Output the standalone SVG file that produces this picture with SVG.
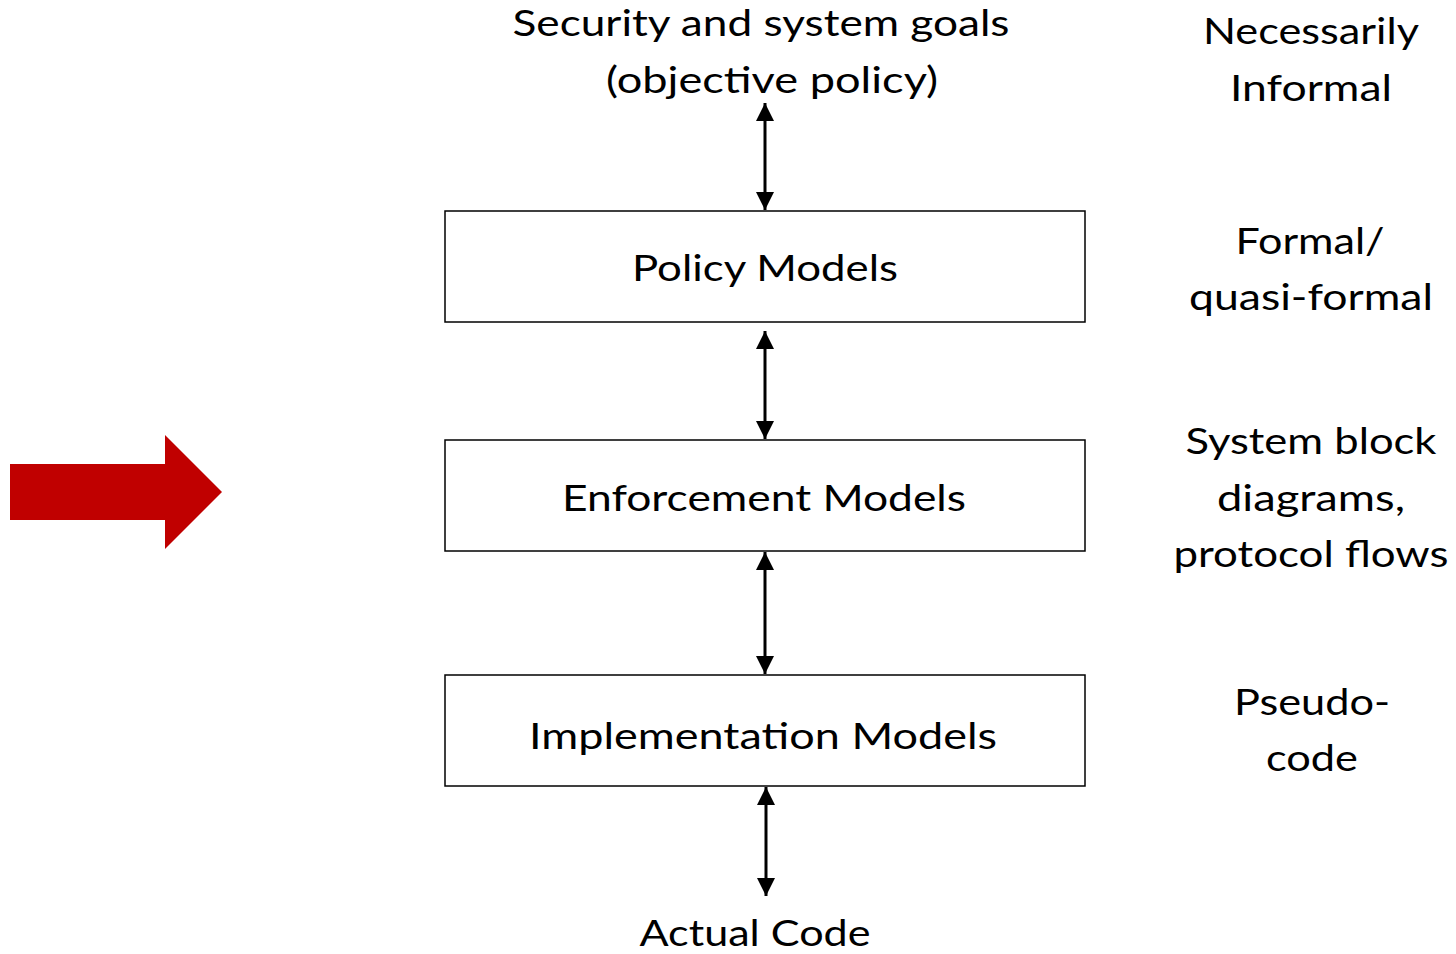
<svg xmlns="http://www.w3.org/2000/svg" width="1456" height="954" viewBox="0 0 1456 954">
<style>
text{font-family:Lato,"Open Sans","Liberation Sans",sans-serif;font-size:36px;fill:#000;text-anchor:middle}
.box{fill:#fff;stroke:#000;stroke-width:1.5}
.conn{stroke:#000;stroke-width:3;fill:none;marker-start:url(#ah);marker-end:url(#ah)}
</style>
<defs>
<marker id="ah" viewBox="0 0 10 10" refX="10" refY="5" markerWidth="6.5" markerHeight="6" orient="auto-start-reverse" markerUnits="strokeWidth">
<path d="M0,0 L10,5 L0,10 z" fill="#000"/>
</marker>
</defs>
<rect width="1456" height="954" fill="#fff"/>
<g id="red-arrow"><polygon points="10,464 165,464 165,435 222,492 165,549 165,520 10,520" fill="#c00000"/></g>
<g id="goals"><text x="761" y="36" textLength="497" lengthAdjust="spacingAndGlyphs">Security and system goals</text><text x="772" y="93" textLength="332" lengthAdjust="spacingAndGlyphs">(objective policy)</text></g>
<g id="policy"><rect class="box" x="445" y="211" width="640" height="111"/><text x="765" y="281" textLength="266" lengthAdjust="spacingAndGlyphs">Policy Models</text></g>
<g id="enforcement"><rect class="box" x="445" y="440" width="640" height="111"/><text x="764" y="511" textLength="404" lengthAdjust="spacingAndGlyphs">Enforcement Models</text></g>
<g id="implementation"><rect class="box" x="445" y="675" width="640" height="111"/><text x="763" y="749" textLength="468" lengthAdjust="spacingAndGlyphs">Implementation Models</text></g>
<g id="code"><text x="755" y="946" textLength="231" lengthAdjust="spacingAndGlyphs">Actual Code</text></g>
<g id="connectors">
<line class="conn" x1="765" y1="103" x2="765" y2="210"/>
<line class="conn" x1="765" y1="331" x2="765" y2="439"/>
<line class="conn" x1="765" y1="552" x2="765" y2="674"/>
<line class="conn" x1="766" y1="787" x2="766" y2="896"/>
</g>
<g id="levels">
<text x="1311" y="44" textLength="216" lengthAdjust="spacingAndGlyphs">Necessarily</text>
<text x="1311" y="101" textLength="162" lengthAdjust="spacingAndGlyphs">Informal</text>
<text x="1310" y="254" textLength="149" lengthAdjust="spacingAndGlyphs">Formal/</text>
<text x="1311" y="310" textLength="244" lengthAdjust="spacingAndGlyphs">quasi-formal</text>
<text x="1311" y="454" textLength="251" lengthAdjust="spacingAndGlyphs">System block</text>
<text x="1311" y="511" textLength="188" lengthAdjust="spacingAndGlyphs">diagrams,</text>
<text x="1311" y="567" textLength="275" lengthAdjust="spacingAndGlyphs">protocol flows</text>
<text x="1312" y="715" textLength="156" lengthAdjust="spacingAndGlyphs">Pseudo-</text>
<text x="1312" y="771" textLength="92" lengthAdjust="spacingAndGlyphs">code</text>
</g>
</svg>
